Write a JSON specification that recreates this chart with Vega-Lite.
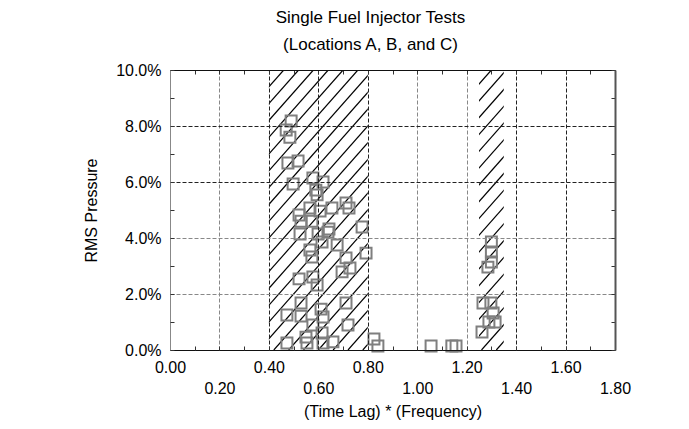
{
  "$schema": "https://vega.github.io/schema/vega-lite/v6.json",
  "width": 445,
  "height": 280,
  "autosize": {"type": "none"},
  "padding": {"left": 170, "top": 70, "right": 74, "bottom": 79},
  "background": "white",
  "config": {
    "view": {"stroke": null},
    "font": "Liberation Sans",
    "axis": {"labelFont": "Liberation Sans", "titleFont": "Liberation Sans", "labelColor": "#000", "titleColor": "#000", "labelFontSize": 16, "titleFontSize": 16, "titleFontWeight": "normal", "tickColor": "#333"}
  },
  "title": {"text": ["Single Fuel Injector Tests", "(Locations A, B, and C)"], "fontSize": 17, "fontWeight": "normal", "font": "Liberation Sans", "color": "#000", "anchor": "middle", "dx": -22, "offset": 8, "lineHeight": 27},
  "datasets": {
    "hatch": [
      {"x0": -0.60, "x1": 0.40}, {"x0": -0.54, "x1": 0.46}, {"x0": -0.48, "x1": 0.52}, {"x0": -0.42, "x1": 0.58},
      {"x0": -0.36, "x1": 0.64}, {"x0": -0.30, "x1": 0.70}, {"x0": -0.24, "x1": 0.76}, {"x0": -0.18, "x1": 0.82},
      {"x0": -0.12, "x1": 0.88}, {"x0": -0.06, "x1": 0.94}, {"x0": 0.00, "x1": 1.00}, {"x0": 0.06, "x1": 1.06},
      {"x0": 0.12, "x1": 1.12}, {"x0": 0.18, "x1": 1.18}, {"x0": 0.24, "x1": 1.24}, {"x0": 0.30, "x1": 1.30},
      {"x0": 0.36, "x1": 1.36}, {"x0": 0.42, "x1": 1.42}, {"x0": 0.48, "x1": 1.48}, {"x0": 0.54, "x1": 1.54},
      {"x0": 0.60, "x1": 1.60}, {"x0": 0.66, "x1": 1.66}, {"x0": 0.72, "x1": 1.72}, {"x0": 0.78, "x1": 1.78},
      {"x0": 0.84, "x1": 1.84}, {"x0": 0.90, "x1": 1.90}, {"x0": 0.96, "x1": 1.96}, {"x0": 1.02, "x1": 2.02},
      {"x0": 1.08, "x1": 2.08}, {"x0": 1.14, "x1": 2.14}, {"x0": 1.20, "x1": 2.20}, {"x0": 1.26, "x1": 2.26},
      {"x0": 1.32, "x1": 2.32}
    ],
    "mask": [
      {"a": 0, "b": 0.4}, {"a": 0.8, "b": 1.25}, {"a": 1.35, "b": 1.8}
    ],
    "points": [
      {"x": 0.49, "y": 8.18}, {"x": 0.47, "y": 7.86}, {"x": 0.485, "y": 7.6}, {"x": 0.477, "y": 6.68},
      {"x": 0.518, "y": 6.75}, {"x": 0.498, "y": 5.93}, {"x": 0.578, "y": 6.14}, {"x": 0.619, "y": 6.0},
      {"x": 0.59, "y": 5.71}, {"x": 0.595, "y": 5.54}, {"x": 0.566, "y": 5.07}, {"x": 0.607, "y": 4.96},
      {"x": 0.655, "y": 5.07}, {"x": 0.712, "y": 5.25}, {"x": 0.724, "y": 5.07}, {"x": 0.522, "y": 4.82},
      {"x": 0.53, "y": 4.6}, {"x": 0.574, "y": 4.6}, {"x": 0.643, "y": 4.32}, {"x": 0.777, "y": 4.39},
      {"x": 0.526, "y": 4.14}, {"x": 0.599, "y": 4.14}, {"x": 0.639, "y": 4.21}, {"x": 0.615, "y": 3.86},
      {"x": 0.676, "y": 3.75}, {"x": 0.566, "y": 3.57}, {"x": 0.793, "y": 3.46}, {"x": 0.574, "y": 3.32},
      {"x": 0.712, "y": 3.29}, {"x": 0.696, "y": 2.79}, {"x": 0.728, "y": 2.93}, {"x": 0.522, "y": 2.54},
      {"x": 0.578, "y": 2.61}, {"x": 0.595, "y": 2.32}, {"x": 0.53, "y": 1.68}, {"x": 0.712, "y": 1.68},
      {"x": 0.473, "y": 1.25}, {"x": 0.53, "y": 1.21}, {"x": 0.611, "y": 1.46}, {"x": 0.619, "y": 1.18},
      {"x": 0.72, "y": 0.89}, {"x": 0.578, "y": 0.89}, {"x": 0.55, "y": 0.46}, {"x": 0.615, "y": 0.61},
      {"x": 0.473, "y": 0.25}, {"x": 0.554, "y": 0.25}, {"x": 0.619, "y": 0.25}, {"x": 0.659, "y": 0.29},
      {"x": 0.825, "y": 0.39}, {"x": 0.841, "y": 0.14}, {"x": 1.056, "y": 0.14}, {"x": 1.14, "y": 0.14},
      {"x": 1.157, "y": 0.14}, {"x": 1.30, "y": 3.86}, {"x": 1.30, "y": 3.5}, {"x": 1.30, "y": 3.14},
      {"x": 1.286, "y": 2.96}, {"x": 1.266, "y": 1.68}, {"x": 1.298, "y": 1.68}, {"x": 1.307, "y": 1.32},
      {"x": 1.29, "y": 1.0}, {"x": 1.315, "y": 1.0}, {"x": 1.262, "y": 0.64}
    ]
  },
  "layer": [
    {
      "data": {"name": "hatch"},
      "mark": {"type": "rule", "color": "#000", "strokeWidth": 1.2, "clip": true},
      "encoding": {
        "x": {"field": "x0", "type": "quantitative", "scale": {"domain": [0, 1.8], "nice": false, "zero": false},
          "axis": {"orient": "bottom", "values": [0, 0.4, 0.8, 1.2, 1.6], "format": ".2f", "grid": false, "ticks": false, "domain": false, "labelPadding": 9, "labelFlush": false, "labelOverlap": false, "title": null}},
        "x2": {"field": "x1"},
        "y": {"datum": 0, "type": "quantitative", "scale": {"domain": [0, 10], "nice": false, "zero": false},
          "axis": {"orient": "left", "values": [0, 2, 4, 6, 8, 10], "labelExpr": "format(datum.value, '.1f') + '%'", "grid": false, "ticks": false, "domain": false, "labelPadding": 9, "labelOverlap": false, "labelFlush": false, "title": "RMS Pressure", "titlePadding": 16}},
        "y2": {"datum": 10}
      }
    },
    {
      "data": {"name": "mask"},
      "mark": {"type": "rect", "fill": "white", "clip": true},
      "encoding": {
        "x": {"field": "a", "type": "quantitative", "scale": {"domain": [0, 1.8], "nice": false, "zero": false},
          "axis": {"orient": "bottom", "values": [0.2, 0.6, 1.0, 1.4, 1.8], "format": ".2f", "grid": false, "ticks": false, "domain": false, "labelPadding": 30, "labelFlush": false, "labelOverlap": false, "title": "(Time Lag) * (Frequency)", "titlePadding": 7}},
        "x2": {"field": "b"},
        "y": {"datum": 0, "type": "quantitative", "scale": {"domain": [0, 10], "nice": false, "zero": false},
          "axis": {"orient": "right", "values": [0, 1, 2, 3, 4, 5, 6, 7, 8, 9, 10], "labels": false, "grid": false, "domain": true, "domainColor": "#555", "domainWidth": 2, "ticks": true, "tickSize": -4, "title": null, "zindex": 1}},
        "y2": {"datum": 10}
      }
    },
    {
      "data": {"name": "points"},
      "mark": {"type": "point", "shape": "square", "filled": false, "stroke": "#7f7f7f", "strokeWidth": 2, "size": 120, "opacity": 1},
      "encoding": {
        "x": {"field": "x", "type": "quantitative", "scale": {"domain": [0, 1.8], "nice": false, "zero": false},
          "axis": {"orient": "bottom", "values": [0.2, 0.4, 0.6, 0.8, 1.0, 1.2, 1.4, 1.6], "labels": false, "ticks": false, "domain": true, "domainColor": "#111", "grid": true,
            "gridColor": {"condition": {"test": "datum.value == 0.2 || datum.value == 1 || datum.value == 1.2", "value": "#888"}, "value": "#222"},
            "gridDash": [4, 2], "gridWidth": 1, "title": null, "zindex": 1}},
        "y": {"field": "y", "type": "quantitative", "scale": {"domain": [0, 10], "nice": false, "zero": false},
          "axis": {"orient": "left", "values": [2, 4, 6, 8], "labels": false, "ticks": false, "domain": true, "domainColor": "#888", "grid": true,
            "gridColor": {"condition": {"test": "datum.value <= 4", "value": "#888"}, "value": "#222"},
            "gridDash": [4, 2], "gridWidth": 1, "title": null, "zindex": 1}}
      }
    },
    {
      "data": {"name": "mask"},
      "mark": {"type": "rect", "opacity": 0},
      "encoding": {
        "x": {"field": "a", "type": "quantitative", "scale": {"domain": [0, 1.8], "nice": false, "zero": false},
          "axis": {"orient": "top", "values": [0, 0.1, 0.2, 0.3, 0.4, 0.5, 0.6, 0.7, 0.8, 0.9, 1.0, 1.1, 1.2, 1.3, 1.4, 1.5, 1.6, 1.7, 1.8], "labels": false, "grid": false, "domain": true, "domainColor": "#111", "ticks": true, "tickSize": -4, "title": null, "zindex": 1}},
        "x2": {"field": "b"},
        "y": {"datum": 0, "type": "quantitative", "scale": {"domain": [0, 10], "nice": false, "zero": false},
          "axis": {"orient": "left", "values": [0, 1, 2, 3, 4, 5, 6, 7, 8, 9, 10], "labels": false, "grid": false, "domain": false, "ticks": true, "tickSize": -4, "title": null, "zindex": 1}},
        "y2": {"datum": 10}
      }
    },
    {
      "data": {"name": "mask"},
      "mark": {"type": "rect", "opacity": 0},
      "encoding": {
        "x": {"field": "a", "type": "quantitative", "scale": {"domain": [0, 1.8], "nice": false, "zero": false},
          "axis": {"orient": "bottom", "values": [0, 0.1, 0.2, 0.3, 0.4, 0.5, 0.6, 0.7, 0.8, 0.9, 1.0, 1.1, 1.2, 1.3, 1.4, 1.5, 1.6, 1.7, 1.8], "labels": false, "grid": false, "domain": false, "ticks": true, "tickSize": -4, "title": null, "zindex": 1}},
        "x2": {"field": "b"},
        "y": {"datum": 0, "type": "quantitative", "scale": {"domain": [0, 10], "nice": false, "zero": false}, "axis": null},
        "y2": {"datum": 10}
      }
    }
  ],
  "resolve": {"axis": {"x": "independent", "y": "independent"}}
}
